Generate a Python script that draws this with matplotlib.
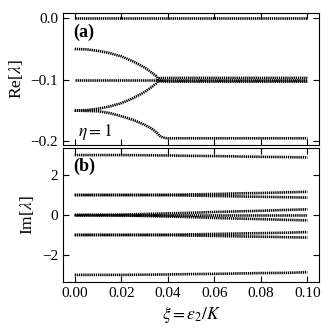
import matplotlib
matplotlib.use("Agg")
import matplotlib.pyplot as plt
import numpy as np

plt.rcParams['font.family'] = 'Liberation Serif'
plt.rcParams['mathtext.fontset'] = 'stix'

# ---- panel (a): Re[lambda] ----
xi_full = [0.0, 0.01, 0.02, 0.03, 0.04, 0.05, 0.06, 0.07, 0.08, 0.09, 0.10]
re_zero = [0.0] * 11
re_mid = [-0.1] * 11

xi_branch = [0.0, 0.005, 0.01, 0.015, 0.02, 0.025, 0.03, 0.033, 0.035, 0.036]
re_upper = [-0.050, -0.0507, -0.053, -0.0567, -0.062, -0.070, -0.080, -0.088, -0.094, -0.100]
re_rising = [-0.150, -0.1493, -0.147, -0.1433, -0.138, -0.130, -0.120, -0.112, -0.106, -0.100]

xi_fall = [0.0, 0.005, 0.01, 0.015, 0.02, 0.025, 0.03, 0.033, 0.035, 0.0365, 0.038,
           0.04, 0.05, 0.06, 0.07, 0.08, 0.09, 0.10]
re_fall = [-0.150, -0.1505, -0.151, -0.154, -0.159, -0.165, -0.173, -0.179, -0.185,
           -0.191, -0.194, -0.195, -0.195, -0.195, -0.195, -0.195, -0.195, -0.195]

xi_band = [0.036, 0.04, 0.06, 0.08, 0.10]
re_band_hi = [-0.0975, -0.097, -0.097, -0.097, -0.097]
re_band_lo = [-0.1025, -0.103, -0.103, -0.103, -0.103]

# ---- panel (b): Im[lambda] ----
im_p3 = [3.0, 3.0, 3.0, 2.99, 2.98, 2.96, 2.95, 2.93, 2.91, 2.90, 2.88]
im_m3 = [-3.0, -3.0, -3.0, -2.99, -2.98, -2.96, -2.95, -2.93, -2.91, -2.90, -2.87]
im_p1_hi = [1.0, 1.0, 1.0, 1.0, 1.01, 1.03, 1.05, 1.08, 1.10, 1.13, 1.16]
im_p1_lo = [1.0, 1.0, 1.0, 1.0, 0.99, 0.97, 0.95, 0.93, 0.91, 0.89, 0.87]
im_m1_hi = [-1.0, -1.0, -1.0, -1.0, -0.99, -0.97, -0.95, -0.93, -0.91, -0.89, -0.86]
im_m1_lo = [-1.0, -1.0, -1.0, -1.0, -1.01, -1.03, -1.05, -1.07, -1.09, -1.11, -1.13]
im_0_hi = [0.0, 0.0, 0.02, 0.05, 0.08, 0.11, 0.15, 0.18, 0.21, 0.25, 0.28]
im_0_mid = [0.0] * 11
im_0_lo = [0.0, 0.0, -0.02, -0.05, -0.08, -0.11, -0.15, -0.18, -0.21, -0.24, -0.27]

fig = plt.figure(figsize=(3.32, 3.32), dpi=100)
ax1 = fig.add_axes([0.19, 0.563, 0.771, 0.399])
ax2 = fig.add_axes([0.19, 0.151, 0.771, 0.403])

sty = dict(color='black', lw=1.9, ls=(0, (0.5, 0.3)))

for y in [re_zero, re_mid]:
    ax1.plot(xi_full, y, **sty)
ax1.plot(xi_branch, re_upper, **sty)
ax1.plot(xi_branch, re_rising, **sty)
ax1.plot(xi_fall, re_fall, **sty)
ax1.plot(xi_band, re_band_hi, **sty)
ax1.plot(xi_band, re_band_lo, **sty)

for y in [im_p3, im_m3, im_p1_hi, im_p1_lo, im_m1_hi, im_m1_lo, im_0_hi, im_0_mid, im_0_lo]:
    ax2.plot(xi_full, y, **sty)

for ax in (ax1, ax2):
    ax.set_xlim(-0.005, 0.105)
    ax.set_xticks([0.0, 0.02, 0.04, 0.06, 0.08, 0.10])
    ax.tick_params(direction='in', top=True, right=True, labelsize=11, length=4)

ax1.set_ylim(-0.206, 0.009)
ax1.set_yticks([0.0, -0.1, -0.2])
ax1.set_yticklabels(['0.0', '\u22120.1', '\u22120.2'])
ax1.tick_params(labelbottom=False)
ax1.set_ylabel(r'Re[$\lambda$]', fontsize=12.5)
ax1.text(0.04, 0.85, '(a)', transform=ax1.transAxes, fontsize=13, fontweight='bold', va='center')
ax1.text(0.06, 0.1, r'$\eta = 1$', transform=ax1.transAxes, fontsize=12.5, va='center')

ax2.set_ylim(-3.35, 3.35)
ax2.set_yticks([2, 0, -2])
ax2.set_yticklabels(['2', '0', '\u22122'])
ax2.set_xticklabels(['0.00', '0.02', '0.04', '0.06', '0.08', '0.10'])
ax2.set_ylabel(r'Im[$\lambda$]', fontsize=12.5)
ax2.set_xlabel(r'$\xi = \varepsilon_2/K$', fontsize=12.5)
ax2.text(0.04, 0.866, '(b)', transform=ax2.transAxes, fontsize=13, fontweight='bold', va='center')

fig.savefig('out.png', dpi=100)
